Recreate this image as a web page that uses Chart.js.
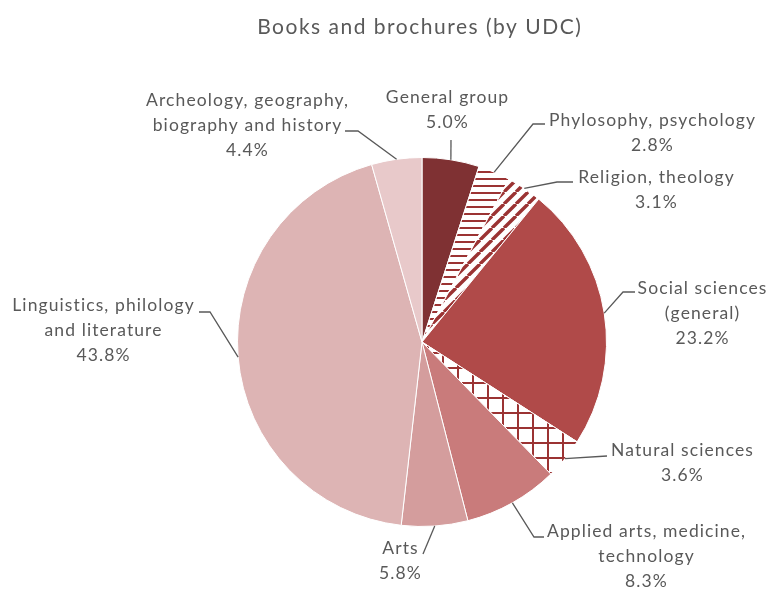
<!DOCTYPE html>
<html>
<head>
<meta charset="utf-8">
<script src="https://cdn.jsdelivr.net/npm/chart.js@4/dist/chart.umd.min.js"></script>
<style>
html,body{margin:0;padding:0;background:#fff;}
#wrap{width:771px;height:589px;position:relative;}
</style>
</head>
<body>
<div id="wrap"><canvas id="c" width="771" height="589"></canvas></div>
<script>
// ---- data ----
const chartTitle = "Books and brochures (by UDC)";
const categories = [
  "General group",
  "Phylosophy, psychology",
  "Religion, theology",
  "Social sciences (general)",
  "Natural sciences",
  "Applied arts, medicine, technology",
  "Arts",
  "Linguistics, philology and literature",
  "Archeology, geography, biography and history"
];
const values = [5.0, 2.8, 3.1, 23.2, 3.6, 8.3, 5.8, 43.8, 4.4];
const labelLines = [
  ["General group"],
  ["Phylosophy, psychology"],
  ["Religion, theology"],
  ["Social sciences", "(general)"],
  ["Natural sciences"],
  ["Applied arts, medicine,", "technology"],
  ["Arts"],
  ["Linguistics, philology", "and literature"],
  ["Archeology, geography,", "biography and history"]
];

// ---- layout of labels (text centre x, first line y, leader start, elbow) ----
const labelLayout = [
  {x:447, y:97,  start:[451,140], elbow:null},
  {x:652, y:120, start:[545,124], elbow:[533,124]},
  {x:656, y:177, start:[573,182], elbow:[557,182]},
  {x:702, y:288, start:[635,292], elbow:[623,292]},
  {x:682, y:450, start:[607,456], elbow:null},
  {x:646, y:531, start:[544,537], elbow:[534,537]},
  {x:400, y:548, start:[423,554], elbow:null},
  {x:103, y:305, start:[199,312], elbow:[210,312]},
  {x:247, y:100, start:[345,131], elbow:[358,131]}
];

// ---- patterns ----
const patColor = '#9B3333';
function makePattern(type){
  const t = document.createElement('canvas');
  const ctx = t.getContext('2d');
  if(type==='hstripe'){
    t.width=7; t.height=7;
    ctx.fillStyle='#fff'; ctx.fillRect(0,0,7,7);
    ctx.fillStyle=patColor; ctx.fillRect(0,3,7,2);
  } else if(type==='diag'){
    const s=12; t.width=s; t.height=s;
    ctx.fillStyle='#fff'; ctx.fillRect(0,0,s,s);
    ctx.strokeStyle=patColor; ctx.lineWidth=3.4;
    ctx.beginPath();
    for(const o of [-s,0,s]){ ctx.moveTo(o, s); ctx.lineTo(o+s, 0); }
    ctx.stroke();
  } else if(type==='grid'){
    const s=15; t.width=s; t.height=s;
    ctx.fillStyle='#fff'; ctx.fillRect(0,0,s,s);
    ctx.fillStyle=patColor;
    ctx.fillRect(0,7,s,2);
    ctx.fillRect(7,0,2,s);
  }
  return ctx.createPattern(t,'repeat');
}
const colors = [
  '#7F3133',
  makePattern('hstripe'),
  makePattern('diag'),
  '#B04A49',
  makePattern('grid'),
  '#C97B7B',
  '#D49D9D',
  '#DDB4B4',
  '#E8C9CA'
];

const FONT = '"Lato", "Liberation Sans", sans-serif';
const TEXT = '#595959';

function spacedText(ctx, str, cx, cy, spacing){
  ctx.letterSpacing = spacing + 'px';
  const w = ctx.measureText(str).width - spacing;
  ctx.textAlign = 'left';
  ctx.fillText(str, cx - w/2, cy);
}

const labelPlugin = {
  id:'labels',
  afterDraw(chart){
    const ctx = chart.ctx;
    const meta = chart.getDatasetMeta(0);
    ctx.save();
    // title
    ctx.fillStyle = TEXT;
    ctx.font = '21px ' + FONT;
    ctx.textBaseline = 'middle';
    spacedText(ctx, chartTitle, 419, 27, 1.5);
    ctx.font = '17.5px ' + FONT;
    const lh = 25;
    meta.data.forEach((arc, i) => {
      const p = arc.getProps(['x','y','startAngle','endAngle','outerRadius'], true);
      const mid = (p.startAngle + p.endAngle)/2;
      const tip = [p.x + Math.cos(mid)*p.outerRadius, p.y + Math.sin(mid)*p.outerRadius];
      const L = labelLayout[i];
      // leader
      ctx.strokeStyle = TEXT; ctx.lineWidth = 1.3;
      ctx.beginPath();
      ctx.moveTo(L.start[0], L.start[1]);
      if(L.elbow) ctx.lineTo(L.elbow[0], L.elbow[1]);
      ctx.lineTo(tip[0], tip[1]);
      ctx.stroke();
      // text
      const lines = labelLines[i].concat([values[i].toFixed(1) + '%']);
      ctx.fillStyle = TEXT;
      lines.forEach((ln, k) => spacedText(ctx, ln, L.x, L.y + k*lh, 1.1));
    });
    ctx.restore();
  }
};

new Chart(document.getElementById('c'), {
  type:'pie',
  data:{
    labels: categories,
    datasets:[{
      data: values,
      backgroundColor: colors,
      borderColor:'#ffffff',
      borderWidth:1
    }]
  },
  options:{
    responsive:false,
    animation:false,
    layout:{padding:{left:237, right:164, top:157, bottom:62}},
    plugins:{legend:{display:false}, tooltip:{enabled:false}, title:{display:false}}
  },
  plugins:[labelPlugin]
});
</script>
</body>
</html>
